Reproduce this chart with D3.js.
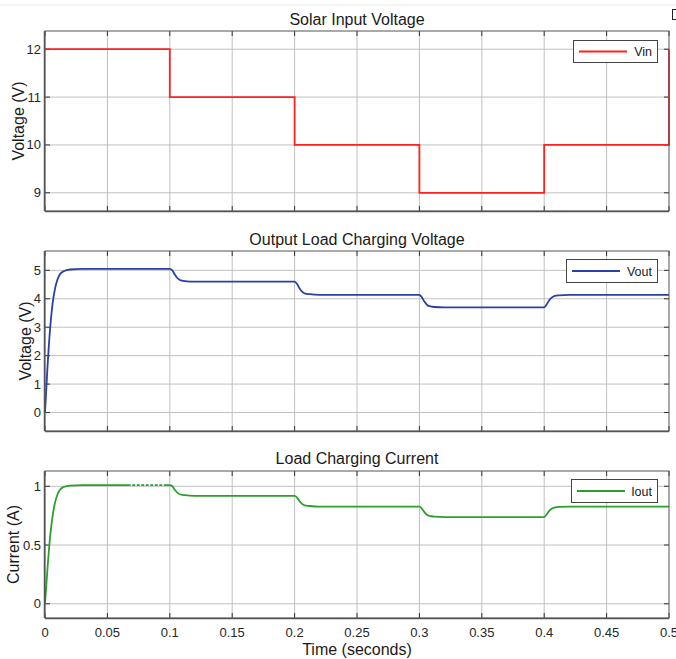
<!DOCTYPE html>
<html><head><meta charset="utf-8">
<script src="https://cdn.jsdelivr.net/npm/d3@7"></script>
<style>
body{margin:0;background:#fff;}
text{font-family:"Liberation Sans",Arial,Helvetica,sans-serif;}
</style></head>
<body><svg id="c" width="676" height="659"></svg>
<script>
// ---- data ----
const xTicks = [0,0.05,0.1,0.15,0.2,0.25,0.3,0.35,0.4,0.45,0.5];
const xTickLabels = ["0","0.05","0.1","0.15","0.2","0.25","0.3","0.35","0.4","0.45","0.5"];

const vinT = [0,0.1,0.1,0.2,0.2,0.3,0.3,0.4,0.4,0.5,0.5];
const vinV = [12,12,11,11,10,10,9,9,10,10,12];
const vinTicks = [9,10,11,12];

const voutT = [0,0.002,0.004,0.006,0.008,0.010,0.012,0.015,0.020,0.030,0.100,0.102,0.104,0.106,0.108,0.112,0.120,0.200,0.202,0.204,0.206,0.208,0.212,0.220,0.300,0.302,0.304,0.306,0.308,0.312,0.320,0.400,0.402,0.404,0.406,0.408,0.412,0.420,0.500];
const voutV = [0,1.6,2.9,3.8,4.35,4.68,4.86,4.97,5.03,5.05,5.05,5.0,4.85,4.73,4.66,4.62,4.6,4.6,4.52,4.36,4.25,4.19,4.16,4.14,4.14,4.05,3.9,3.79,3.74,3.71,3.70,3.70,3.8,3.95,4.04,4.09,4.12,4.14,4.14];
const voutTicks = [0,1,2,3,4,5];

const ioutT = voutT;
const ioutV = [0,0.3,0.56,0.74,0.86,0.93,0.97,0.994,1.006,1.01,1.01,1.0,0.97,0.946,0.932,0.924,0.918,0.918,0.904,0.872,0.85,0.838,0.832,0.826,0.826,0.81,0.78,0.758,0.748,0.742,0.738,0.738,0.76,0.79,0.808,0.818,0.824,0.826,0.826];
const ioutTicks = [0,0.5,1];
const ioutTickLabels = ["0","0.5","1"];
const ioutDashedSpan = [0.068,0.096];

const panels = [
  {title:"Solar Input Voltage", ylabel:"Voltage (V)", t:vinT, v:vinV, ticks:vinTicks, tickLabels:vinTicks.map(String), domain:[8.62,12.38], color:"#ff2020", name:"Vin", curve:d3.curveLinear,
   top:31, bottom:211, ylabX:18, titleOff:6, legend:{x0:573,x1:657,y0:40,y1:62}},
  {title:"Output Load Charging Voltage", ylabel:"Voltage (V)", t:voutT, v:voutV, ticks:voutTicks, tickLabels:voutTicks.map(String), domain:[-0.65,5.68], color:"#2a40a8", name:"Vout", curve:d3.curveMonotoneX,
   top:251, bottom:431, ylabX:25, titleOff:6, legend:{x0:566,x1:657,y0:259,y1:282}},
  {title:"Load Charging Current", ylabel:"Current (A)", t:ioutT, v:ioutV, ticks:ioutTicks, tickLabels:ioutTickLabels, domain:[-0.121,1.13], color:"#2ca02c", name:"Iout", curve:d3.curveMonotoneX,
   top:471, bottom:618, ylabX:13, titleOff:7, legend:{x0:571,x1:657,y0:479,y1:502}, dashed:ioutDashedSpan}
];

const svg = d3.select("#c");
const defs = svg.append("defs");
const L = 45, R = 669;
const x = d3.scaleLinear().domain([0,0.5]).range([L,R]);

// faint top line and toolbar icon fragment
svg.append("line").attr("x1",0).attr("x2",676).attr("y1",5).attr("y2",5).attr("stroke","#ececec");
svg.append("rect").attr("x",672.5).attr("y",9.5).attr("width",6).attr("height",10).attr("fill","none").attr("stroke","#222");

panels.forEach((p,i)=>{
  const y = d3.scaleLinear().domain(p.domain).range([p.bottom,p.top]);
  const g = svg.append("g");
  // grid
  g.selectAll(".gx").data(xTicks.slice(1,-1)).enter().append("line")
    .attr("x1",d=>x(d)).attr("x2",d=>x(d)).attr("y1",p.top).attr("y2",p.bottom)
    .attr("stroke","#c0c0c0").attr("stroke-width",1);
  g.selectAll(".gy").data(p.ticks).enter().append("line")
    .attr("x1",L).attr("x2",R).attr("y1",d=>y(d)).attr("y2",d=>y(d))
    .attr("stroke","#c0c0c0").attr("stroke-width",1);
  // ticks (inward, both sides)
  const tl = 5;
  g.selectAll(".tx").data(xTicks).enter().append("line")
    .attr("x1",d=>x(d)).attr("x2",d=>x(d)).attr("y1",p.bottom).attr("y2",p.bottom-tl).attr("stroke","#333");
  g.selectAll(".tx2").data(xTicks).enter().append("line")
    .attr("x1",d=>x(d)).attr("x2",d=>x(d)).attr("y1",p.top).attr("y2",p.top+tl).attr("stroke","#333");
  g.selectAll(".ty").data(p.ticks).enter().append("line")
    .attr("x1",L).attr("x2",L+tl).attr("y1",d=>y(d)).attr("y2",d=>y(d)).attr("stroke","#333");
  g.selectAll(".ty2").data(p.ticks).enter().append("line")
    .attr("x1",R).attr("x2",R-tl).attr("y1",d=>y(d)).attr("y2",d=>y(d)).attr("stroke","#333");
  // y tick labels
  g.selectAll(".yl").data(p.ticks).enter().append("text")
    .attr("x",L-4).attr("y",d=>y(d)).attr("dy","0.35em").attr("text-anchor","end")
    .attr("font-size",13).attr("fill","#262626").text((d,j)=>p.tickLabels[j]);
  // data line
  const pts = p.t.map((t,j)=>[t,p.v[j]]);
  const lineGen = d3.line().x(d=>x(d[0])).y(d=>y(d[1])).curve(p.curve);
  if(p.dashed){
    const a = x(p.dashed[0]), b = x(p.dashed[1]);
    defs.append("clipPath").attr("id","solid"+i).selectAll("rect")
      .data([[0,a],[b,676]]).enter().append("rect")
      .attr("x",d=>d[0]).attr("width",d=>d[1]-d[0]).attr("y",0).attr("height",659);
    defs.append("clipPath").attr("id","dash"+i).append("rect")
      .attr("x",a).attr("width",b-a).attr("y",0).attr("height",659);
    g.append("path").datum(pts).attr("d",lineGen).attr("clip-path",`url(#solid${i})`)
      .attr("fill","none").attr("stroke",p.color).attr("stroke-width",1.8);
    g.append("path").datum(pts).attr("d",lineGen).attr("clip-path",`url(#dash${i})`)
      .attr("fill","none").attr("stroke",p.color).attr("stroke-width",1.8).attr("stroke-dasharray","3,1.5");
  } else {
    g.append("path").datum(pts).attr("d",lineGen)
      .attr("fill","none").attr("stroke",p.color).attr("stroke-width",1.8);
  }
  // box
  g.append("rect").attr("x",L).attr("y",p.top).attr("width",R-L).attr("height",p.bottom-p.top)
    .attr("fill","none").attr("stroke","#555").attr("stroke-width",1);
  g.append("line").attr("x1",L).attr("x2",R).attr("y1",p.bottom+0.5).attr("y2",p.bottom+0.5).attr("stroke","#555").attr("stroke-width",1.5);
  g.append("line").attr("x1",L-0.5).attr("x2",L-0.5).attr("y1",p.top).attr("y2",p.bottom).attr("stroke","#555").attr("stroke-width",1.5);
  // title
  g.append("text").attr("x",(L+R)/2).attr("y",p.top-p.titleOff).attr("text-anchor","middle")
    .attr("font-size",16).attr("fill","#1a1a1a").text(p.title);
  // y label
  g.append("text").attr("transform",`translate(${p.ylabX},${(p.top+p.bottom)/2}) rotate(-90)`)
    .attr("text-anchor","middle").attr("dy","0.35em").attr("font-size",16).attr("fill","#1a1a1a").text(p.ylabel);
  // legend
  const lg = p.legend;
  g.append("rect").attr("x",lg.x0+0.5).attr("y",lg.y0+0.5).attr("width",lg.x1-lg.x0).attr("height",lg.y1-lg.y0)
    .attr("fill","#fff").attr("stroke","#444").attr("stroke-width",1);
  const ly = (lg.y0+lg.y1)/2+0.5;
  g.append("line").attr("x1",lg.x0+6).attr("x2",lg.x0+54).attr("y1",ly).attr("y2",ly)
    .attr("stroke",p.color).attr("stroke-width",1.8);
  g.append("text").attr("x",lg.x1-5).attr("y",ly).attr("dy","0.36em").attr("text-anchor","end")
    .attr("font-size",12.5).attr("fill","#1a1a1a").text(p.name);

  if(i===2){
    g.selectAll(".xl").data(xTicks).enter().append("text")
      .attr("x",d=>x(d)).attr("y",p.bottom+14).attr("dy","0.35em").attr("text-anchor","middle")
      .attr("font-size",13).attr("fill","#262626").text((d,j)=>xTickLabels[j]);
    g.append("text").attr("x",(L+R)/2).attr("y",p.bottom+31).attr("dy","0.35em").attr("text-anchor","middle")
      .attr("font-size",16).attr("fill","#1a1a1a").text("Time (seconds)");
  }
});
</script></body></html>
